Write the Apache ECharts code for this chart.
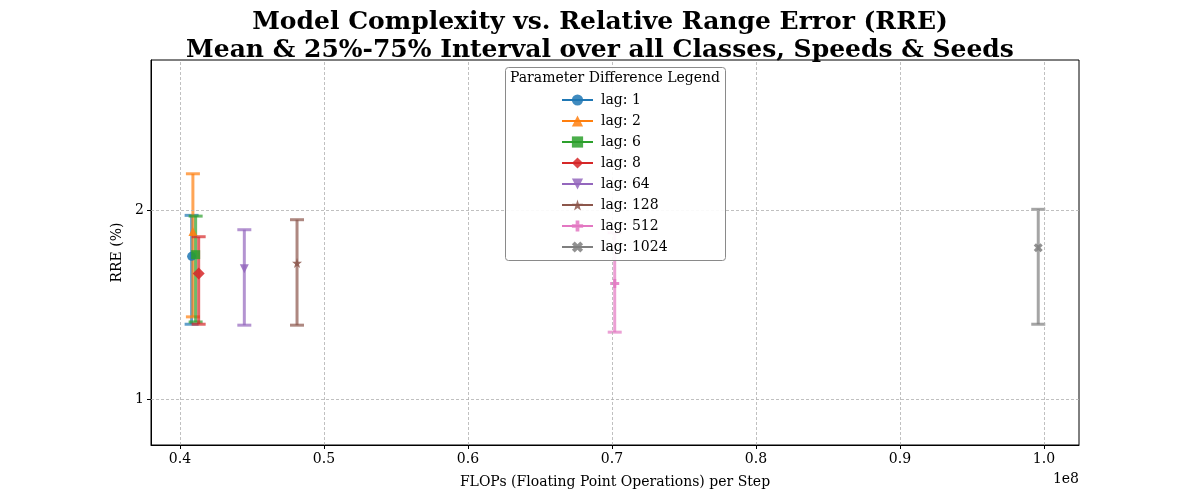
<!DOCTYPE html>
<html>
<head>
<meta charset="utf-8">
<script src="https://cdn.jsdelivr.net/npm/echarts@6/dist/echarts.min.js"></script>
<style>
  html, body { margin: 0; padding: 0; background: #fff; }
  #chart { width: 1200px; height: 500px; }
</style>
</head>
<body>
<div id="chart"></div>
<script>
// values (x in units of 1e8 FLOPs)
const lags = [1, 2, 6, 8, 64, 128, 512, 1024];
const flops = [0.4081, 0.4090, 0.4109, 0.4130, 0.4447, 0.4813, 0.7019, 0.9960];
const meanRre = [1.755, 1.887, 1.764, 1.664, 1.690, 1.720, 1.611, 1.801];
const q25Rre = [1.396, 1.435, 1.408, 1.396, 1.391, 1.391, 1.354, 1.396];
const q75Rre = [1.972, 2.192, 1.968, 1.859, 1.896, 1.949, 1.880, 2.004];
const xTicks = [0.4, 0.5, 0.6, 0.7, 0.8, 0.9, 1.0];
const yTicks = [1, 2];

const colors = ['#1f77b4', '#ff7f0e', '#2ca02c', '#d62728', '#9467bd', '#8c564b', '#e377c2', '#7f7f7f'];
const symbols = [
  'circle',
  'triangle',
  'rect',
  'path://M0,-1L1,0L0,1L-1,0Z',
  'path://M-1,-1L1,-1L0,1Z',
  'path://M0,-1L0.225,-0.309L0.951,-0.309L0.363,0.118L0.588,0.809L0,0.382L-0.588,0.809L-0.363,0.118L-0.951,-0.309L-0.225,-0.309Z',
  'path://M-1,-3H1V-1H3V1H1V3H-1V1H-3V-1H-1Z',
  'path://M-1.5,-3L0,-1.5L1.5,-3L3,-1.5L1.5,0L3,1.5L1.5,3L0,1.5L-1.5,3L-3,1.5L-1.5,0L-3,-1.5Z'
];
const symbolSizes = [9, 9, 9, 12, 9, 10, 9, 9];

const serif = "'DejaVu Serif', serif";
const myChart = echarts.init(document.getElementById('chart'));

function errorBar(params, api) {
  const x = api.value(0);
  const lo = api.coord([x, api.value(1)]);
  const hi = api.coord([x, api.value(2)]);
  const color = api.visual('color');
  const half = 7;
  const style = { stroke: color, lineWidth: 3, opacity: 0.7 };
  return {
    type: 'group',
    children: [
      { type: 'line', shape: { x1: lo[0], y1: lo[1], x2: hi[0], y2: hi[1] }, style },
      { type: 'line', shape: { x1: lo[0] - half, y1: lo[1], x2: lo[0] + half, y2: lo[1] }, style },
      { type: 'line', shape: { x1: hi[0] - half, y1: hi[1], x2: hi[0] + half, y2: hi[1] }, style }
    ]
  };
}

const series = [{
  name: 'grid',
  type: 'line',
  data: [[0.4, 1]],
  showSymbol: false,
  symbol: 'none',
  lineStyle: { opacity: 0 },
  silent: true,
  z: 0,
  markLine: {
    silent: true,
    symbol: 'none',
    animation: false,
    label: { show: false },
    lineStyle: { type: [3, 2], color: '#b0b0b0', width: 0.8 },
    data: xTicks.map(v => ({ xAxis: v })).concat(yTicks.map(v => ({ yAxis: v })))
  }
}];

lags.forEach((lag, i) => {
  series.push({
    name: 'bar ' + lag,
    type: 'custom',
    renderItem: errorBar,
    itemStyle: { color: colors[i] },
    data: [[flops[i], q25Rre[i], q75Rre[i]]],
    z: 2
  });
  series.push({
    name: 'lag: ' + lag,
    type: 'line',
    data: [[flops[i], meanRre[i]]],
    symbol: symbols[i],
    symbolSize: symbolSizes[i],
    showSymbol: true,
    itemStyle: { color: colors[i], opacity: 0.85 },
    lineStyle: { color: colors[i], width: 1.5 },
    z: 3
  });
});

const option = {
  animation: false,
  title: {
    text: 'Model Complexity vs. Relative Range Error (RRE)\nMean & 25%-75% Interval over all Classes, Speeds & Seeds',
    left: 'center',
    top: 3,
    textStyle: { fontFamily: serif, fontSize: 25, fontWeight: 'bold', lineHeight: 28, color: '#000' }
  },
  grid: {
    left: 151, right: 121, top: 60, bottom: 55,
    show: true, borderColor: '#000', borderWidth: 1, backgroundColor: 'transparent'
  },
  xAxis: {
    type: 'value',
    min: 0.3799,
    max: 1.0243,
    name: 'FLOPs (Floating Point Operations) per Step',
    nameLocation: 'middle',
    nameGap: 30,
    nameTextStyle: { fontFamily: serif, fontSize: 14, color: '#000' },
    axisLine: { show: true, onZero: false, lineStyle: { color: '#000' } },
    axisTick: { show: true, customValues: xTicks, length: 4, lineStyle: { color: '#000' } },
    axisLabel: {
      customValues: xTicks, margin: 7,
      fontFamily: serif, fontSize: 14, color: '#000',
      formatter: v => v.toFixed(1)
    },
    splitLine: { show: false }
  },
  yAxis: {
    type: 'value',
    min: 0.757,
    max: 2.794,
    name: 'RRE (%)',
    nameLocation: 'middle',
    nameGap: 26,
    nameTextStyle: { fontFamily: serif, fontSize: 14, color: '#000' },
    axisLine: { show: true, onZero: false, lineStyle: { color: '#000' } },
    axisTick: { show: true, customValues: yTicks, length: 4, lineStyle: { color: '#000' } },
    axisLabel: {
      customValues: yTicks, margin: 7,
      fontFamily: serif, fontSize: 14, color: '#000',
      formatter: v => String(v)
    },
    splitLine: { show: false }
  },
  legend: {
    orient: 'vertical',
    left: 561,
    top: 93,
    padding: 0,
    itemWidth: 31,
    itemHeight: 14,
    itemGap: 7,
    z: 10,
    data: lags.map(l => 'lag: ' + l),
    textStyle: { fontFamily: serif, fontSize: 14, color: '#000', padding: [0, 0, 0, 3] }
  },
  graphic: [
    {
      type: 'rect', z: 6,
      shape: { x: 505.5, y: 67.5, width: 220, height: 193, r: 3 },
      style: { fill: 'rgba(255,255,255,0.92)', stroke: '#8a8a8a', lineWidth: 1 }
    },
    {
      type: 'text', z: 10, x: 615, y: 78,
      style: {
        text: 'Parameter Difference Legend', fill: '#000',
        font: "14px 'DejaVu Serif', serif", align: 'center', verticalAlign: 'middle'
      }
    },
    {
      type: 'text', z: 10, x: 1079, y: 479,
      style: {
        text: '1e8', fill: '#000',
        font: "14px 'DejaVu Serif', serif", align: 'right', verticalAlign: 'middle'
      }
    }
  ],
  series: series
};

myChart.setOption(option);
</script>
</body>
</html>
